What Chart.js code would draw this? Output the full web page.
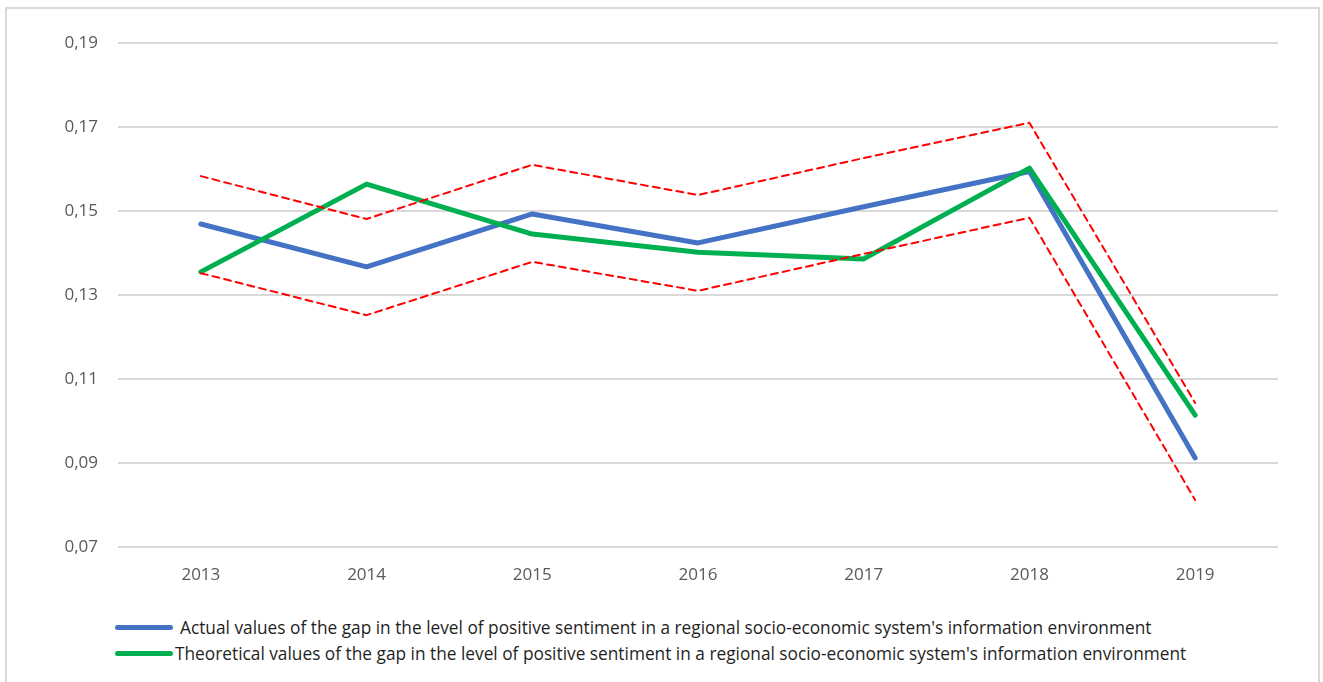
<!DOCTYPE html>
<html>
<head>
<meta charset="utf-8">
<script src="https://cdn.jsdelivr.net/npm/chart.js@4/dist/chart.umd.min.js"></script>
<style>
  body { margin: 0; background: #fff; font-family: "Open Sans", sans-serif; }
  #frame { position: absolute; left: 5px; top: 7px; width: 1311px; height: 700px; border: 2px solid #d9d9d9; }
  #wrap { position: absolute; left: 0; top: 0; width: 1323px; height: 600px; }
  #legend { position: absolute; left: 115px; top: 614px; font-size: 17.3px; color: #1f1f1f; }
  .item { display: flex; align-items: center; height: 26px; white-space: nowrap; }
  .swatch { width: 58px; height: 5px; border-radius: 3px; }
</style>
</head>
<body>
<div id="frame"></div>
<div id="wrap"><canvas id="chart"></canvas></div>
<div id="legend"></div>
<script>
const years = ['2013', '2014', '2015', '2016', '2017', '2018', '2019']
const actualValues = [0.1469, 0.1367, 0.1493, 0.1424, 0.1510, 0.1594, 0.0912]
const theoreticalValues = [0.1355, 0.1564, 0.1445, 0.1402, 0.1386, 0.1602, 0.1014]
const upperBound = [0.1583, 0.1481, 0.1610, 0.1538, 0.1626, 0.1710, 0.1043]
const lowerBound = [0.1352, 0.1252, 0.1379, 0.1310, 0.1398, 0.1484, 0.0812]
const yTicks = [0.07, 0.09, 0.11, 0.13, 0.15, 0.17, 0.19]

const actualLabel = "Actual values of the gap in the level of positive sentiment in a regional socio-economic system's information environment"
const theoreticalLabel = "Theoretical values of the gap in the level of positive sentiment in a regional socio-economic system's information environment"

const ctx = document.getElementById('chart').getContext('2d')
const chart = new Chart(ctx, {
  type: 'line',
  data: {
    labels: years,
    datasets: [
      { label: actualLabel, data: actualValues, borderColor: '#4472C4', borderWidth: 5, order: 4, gap: 7 },
      { label: theoreticalLabel, data: theoreticalValues, borderColor: '#00B050', borderWidth: 5, order: 3, gap: 2 },
      { label: 'upper', data: upperBound, borderColor: '#FF0000', borderWidth: 2, borderDash: [7, 5], order: 2, inLegend: false },
      { label: 'lower', data: lowerBound, borderColor: '#FF0000', borderWidth: 2, borderDash: [7, 5], order: 1, inLegend: false },
    ]
  },
  options: {
    responsive: true,
    maintainAspectRatio: false,
    animation: false,
    layout: { padding: { left: 0, right: 45, top: 43, bottom: 14 } },
    elements: {
      point: { radius: 0, hoverRadius: 0 },
      line: { tension: 0, borderCapStyle: 'round', borderJoinStyle: 'round', fill: false }
    },
    plugins: {
      legend: { display: false },
      tooltip: { enabled: false }
    },
    scales: {
      x: {
        offset: true,
        grid: { display: false, drawTicks: false },
        border: { display: false },
        ticks: { padding: 18, color: '#595959', font: { family: 'Open Sans', size: 17 } },
        afterFit: (s) => { s.height = 39 }
      },
      y: {
        min: 0.07,
        max: 0.19,
        afterBuildTicks: (s) => { s.ticks = yTicks.map(v => ({ value: v })) },
        grid: { color: '#d9d9d9', lineWidth: 2, drawTicks: false },
        border: { display: false },
        ticks: {
          padding: 20,
          color: '#595959',
          font: { family: 'Open Sans', size: 17 },
          callback: (v) => v.toFixed(2).replace('.', ',')
        },
        afterFit: (s) => { s.width = 118 }
      }
    }
  }
})

// legend only for the two main series, left aligned like the original
const legend = document.getElementById('legend')
chart.data.datasets.filter(d => d.inLegend !== false).forEach((d) => {
  const row = document.createElement('div')
  row.className = 'item'
  const sw = document.createElement('span')
  sw.className = 'swatch'
  sw.style.background = d.borderColor
  sw.style.marginRight = d.gap + 'px'
  const txt = document.createElement('span')
  txt.textContent = d.label
  row.appendChild(sw)
  row.appendChild(txt)
  legend.appendChild(row)
})
</script>
</body>
</html>
